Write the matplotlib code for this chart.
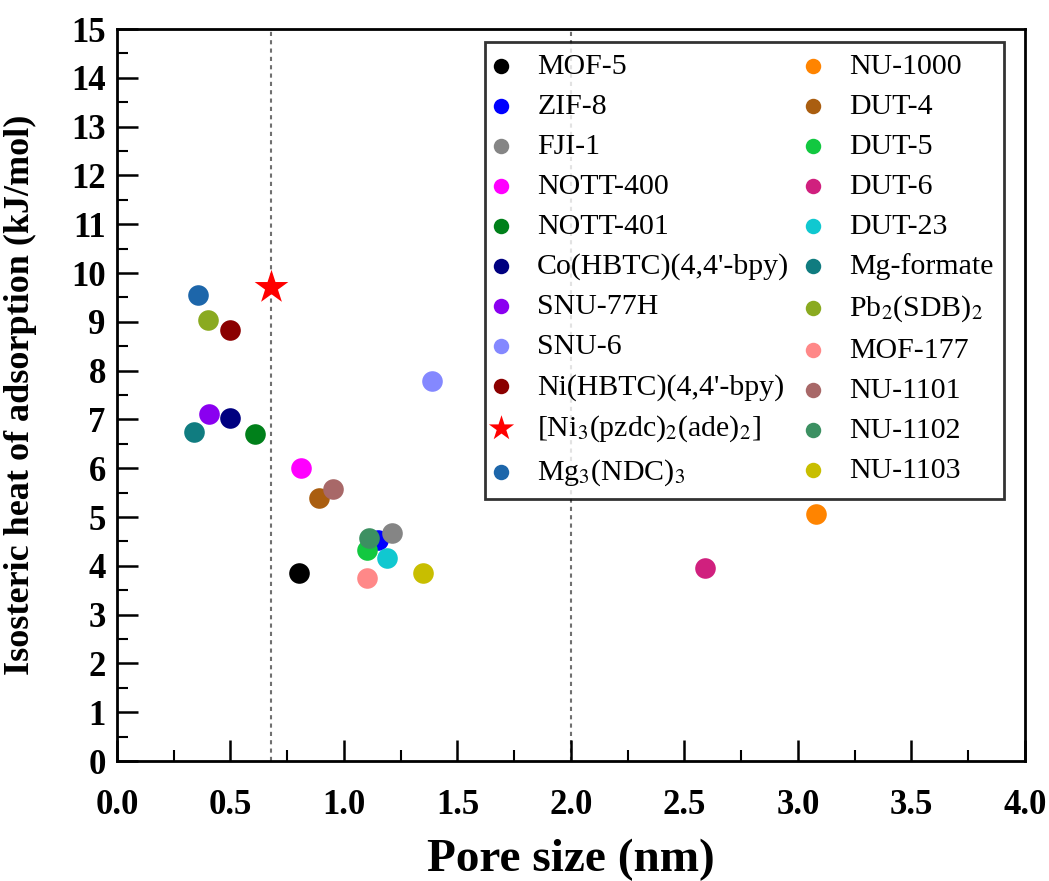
import matplotlib
matplotlib.use("Agg")
import matplotlib.pyplot as plt
from matplotlib.ticker import MultipleLocator

plt.rcParams['font.family'] = ['Liberation Serif', 'DejaVu Serif']
plt.rcParams['mathtext.fontset'] = 'stix'

names = ["MOF-5", "ZIF-8", "FJI-1", "NOTT-400", "NOTT-401",
         "Co(HBTC)(4,4'-bpy)", "SNU-77H", "SNU-6", "Ni(HBTC)(4,4'-bpy)",
         "[Ni$_3$(pzdc)$_2$(ade)$_2$]", "Mg$_3$(NDC)$_3$",
         "NU-1000", "DUT-4", "DUT-5", "DUT-6", "DUT-23", "Mg-formate",
         "Pb$_2$(SDB)$_2$", "MOF-177", "NU-1101", "NU-1102", "NU-1103"]
pore_size = [0.80, 1.15, 1.21, 0.81, 0.61, 0.50, 0.405, 1.39, 0.50, 0.68, 0.357,
             3.08, 0.89, 1.10, 2.59, 1.19, 0.34, 0.40, 1.10, 0.95, 1.11, 1.35]
qst = [3.85, 4.53, 4.67, 6.00, 6.70, 7.03, 7.11, 7.79, 8.83, 9.71, 9.55,
       5.06, 5.39, 4.32, 3.95, 4.16, 6.74, 9.04, 3.75, 5.57, 4.57, 3.85]
colors = ["#000000", "#0000FF", "#858585", "#FF00FF", "#00801A", "#000080",
          "#8A00F0", "#8488FF", "#8B0000", "#FF0000", "#1D66AA",
          "#FF8400", "#AA5E10", "#12C840", "#D0207E", "#10C8D0", "#107C80",
          "#8AAA20", "#FF8888", "#A86868", "#3C9062", "#C8BE00"]
dashed_x = [0.68, 2.0]

fig = plt.figure(figsize=(10.49, 8.81), dpi=100)
ax = fig.add_axes([0.1115, 0.1362, 0.8655, 0.8308])

for xv in dashed_x:
    ax.axvline(xv, color="#707070", lw=1.5, ls=(0, (2, 2)), zorder=1)

handles = []
for n, x, y, c in zip(names, pore_size, qst, colors):
    if n.startswith("[Ni"):
        h = ax.scatter([x], [y], s=650, marker="*", color=c, label=n, zorder=4, linewidths=0)
    else:
        h = ax.scatter([x], [y], s=220, marker="o", color=c, label=n, zorder=3, linewidths=0)
    handles.append(h)

ax.set_xlim(0, 4.0)
ax.set_ylim(0, 15)
ax.xaxis.set_major_locator(MultipleLocator(0.5))
ax.xaxis.set_minor_locator(MultipleLocator(0.25))
ax.yaxis.set_major_locator(MultipleLocator(1))
ax.yaxis.set_minor_locator(MultipleLocator(0.5))
ax.set_xticklabels([f"{v:.1f}" for v in ax.get_xticks()])
ax.tick_params(which="major", direction="in", length=15, width=1.8, labelsize=25)
ax.tick_params(which="minor", direction="in", length=8, width=1.5)
ax.tick_params(axis="x", pad=20)
ax.tick_params(axis="y", pad=8)
for lab in ax.get_xticklabels() + ax.get_yticklabels():
    lab.set_fontweight("bold")
for sp in ax.spines.values():
    sp.set_linewidth(2)

ax.set_xlabel("Pore size (nm)", fontsize=34, fontweight="bold", labelpad=12)
ax.set_ylabel("Isosteric heat of adsorption (kJ/mol)", fontsize=26, fontweight="bold")
ax.yaxis.set_label_coords(-0.088, 0.5)

leg = ax.legend(handles=handles, ncol=2, loc="upper left",
                bbox_to_anchor=(0.4623, 0.952), bbox_transform=fig.transFigure,
                fontsize=21.5, frameon=True, fancybox=False, edgecolor="black",
                borderpad=0.35, labelspacing=0.44, handletextpad=1.0,
                columnspacing=0.6, handlelength=0.4, borderaxespad=0,
                scatterpoints=1, markerscale=0.75)
leg.get_frame().set_linewidth(2)

fig.savefig("out.png", dpi=100)
